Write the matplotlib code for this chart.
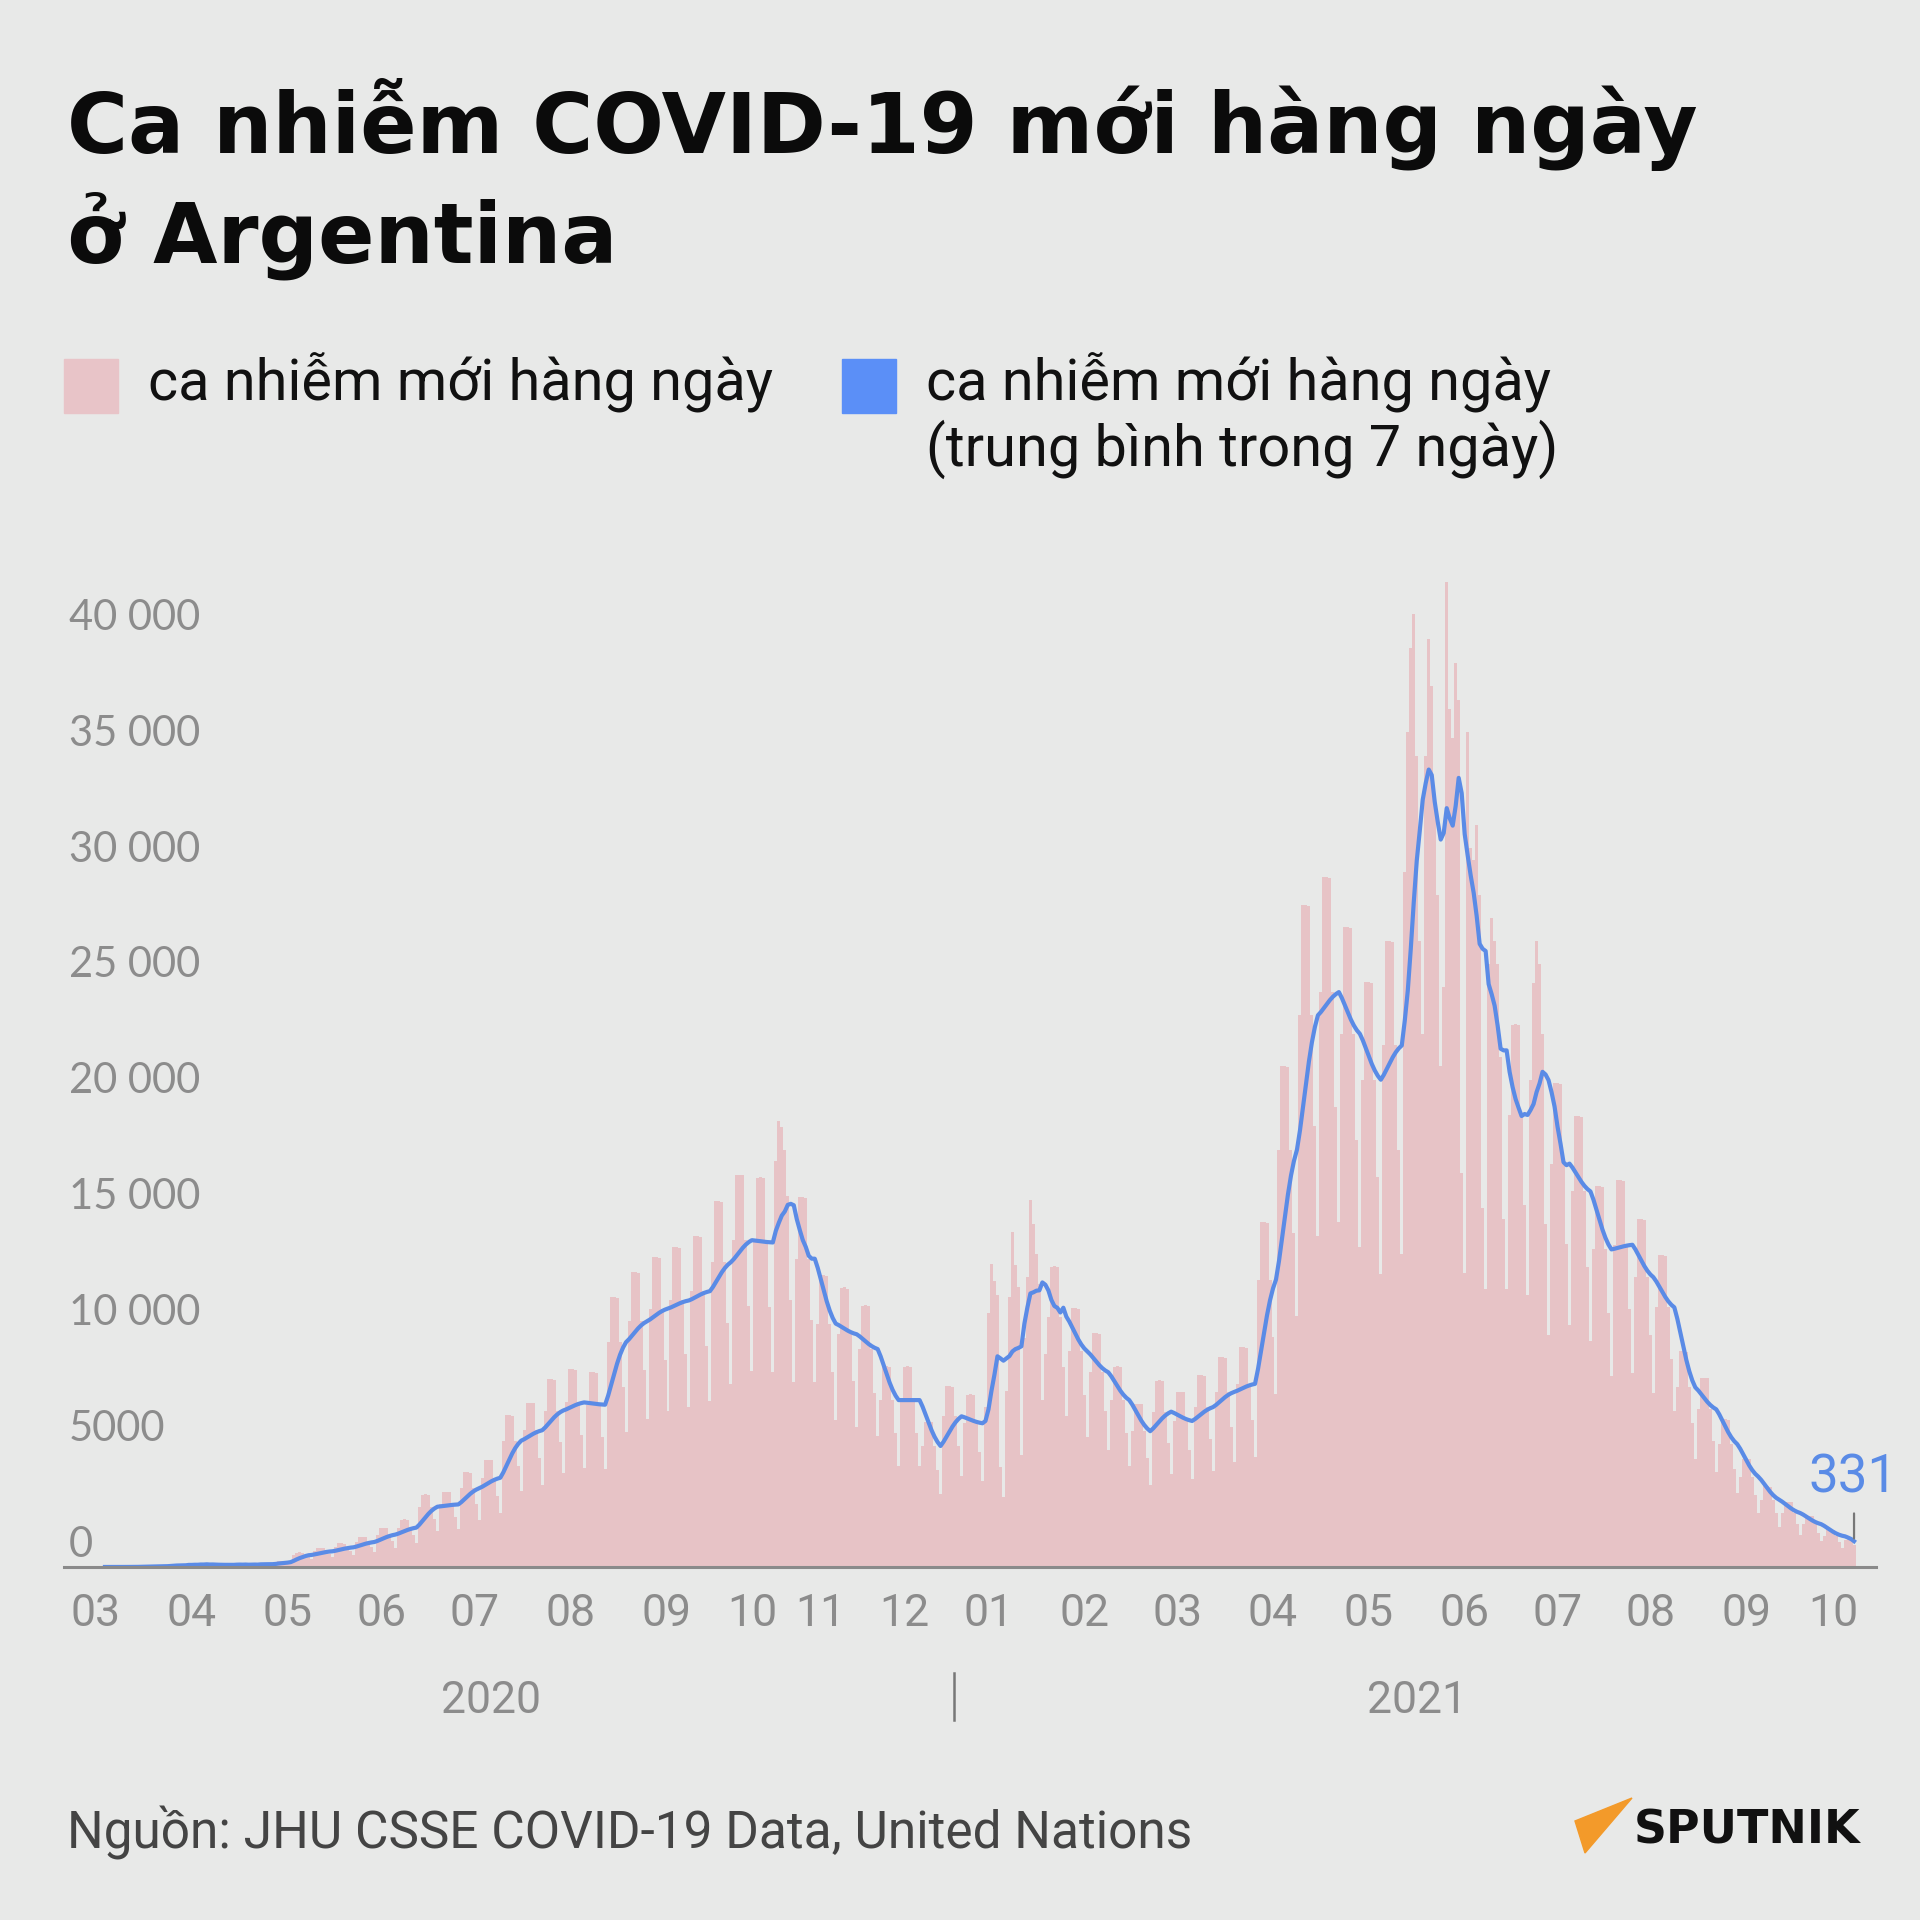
import numpy as np
import pandas as pd
import matplotlib
matplotlib.use("Agg")
import matplotlib.pyplot as plt
from matplotlib import transforms
from matplotlib.patches import Polygon, Rectangle

BG = "#e8e9e8"
PINK = "#e7c3c6"
BLUE = "#5a8be6"
GRAY = "#8c8c8c"

# daily new cases, one row per week (Tue..Mon), starting 2020-03-03
start_date = "2020-03-03"
weekly_rows = [
    [1, 0, 0, 1, 1, 4, 5],
    [5, 2, 12, 3, 11, 22, 9],
    [9, 18, 31, 30, 30, 67, 41],
    [36, 86, 87, 101, 55, 75, 79],
    [146, 88, 132, 103, 124, 75, 141],
    [87, 100, 80, 79, 98, 69, 139],
    [99, 83, 138, 102, 77, 102, 89],
    [132, 97, 119, 181, 112, 105, 97],
    [142, 173, 243, 265, 211, 195, 238],
    [520, 620, 630, 600, 520, 420, 330],
    [680, 810, 820, 800, 690, 540, 410],
    [850, 1020, 1020, 1010, 860, 680, 510],
    [1080, 1300, 1300, 1290, 1080, 860, 650],
    [1400, 1680, 1690, 1670, 1400, 1120, 840],
    [1700, 2040, 2050, 2030, 1700, 1360, 1020],
    [2600, 3120, 3130, 3110, 2600, 2080, 1560],
    [2700, 3240, 3250, 3230, 2700, 2160, 1620],
    [3400, 4080, 4090, 4070, 3400, 2720, 2040],
    [3850, 4620, 4630, 4600, 3850, 3080, 2320],
    [5450, 6540, 6550, 6520, 5450, 4360, 3280],
    [5900, 7080, 7090, 7060, 5900, 4720, 3550],
    [6750, 8100, 8110, 8080, 6750, 5400, 4060],
    [7100, 8520, 8530, 8500, 7100, 5680, 4270],
    [7000, 8400, 8410, 8380, 7000, 5600, 4210],
    [9700, 11640, 11650, 11610, 9700, 7760, 5840],
    [10600, 12720, 12730, 12690, 10600, 8480, 6380],
    [11150, 13380, 13390, 13350, 11150, 8920, 6710],
    [11500, 13800, 13810, 13770, 11500, 9200, 6920],
    [11900, 14280, 14290, 14250, 11900, 9520, 7160],
    [13150, 15780, 15790, 15750, 13150, 10520, 7910],
    [14100, 16920, 16930, 16890, 14100, 11280, 8470],
    [14000, 16800, 16810, 16770, 14000, 11200, 8420],
    [17500, 19240, 19000, 18000, 16000, 11500, 8000],
    [13300, 15960, 15970, 15930, 13300, 10640, 8000],
    [10500, 12600, 12610, 12570, 10500, 8400, 6320],
    [10040, 12050, 12060, 12010, 10040, 8030, 6050],
    [9400, 11280, 11290, 11250, 9400, 7520, 5660],
    [7200, 8640, 8650, 8610, 7200, 5760, 4340],
    [7200, 8640, 8650, 8610, 7200, 5760, 4340],
    [5220, 6260, 6270, 6250, 5220, 4180, 3140],
    [6500, 7800, 7810, 7780, 6500, 5200, 3910],
    [6200, 7440, 7450, 7420, 6200, 4960, 3730],
    [6900, 10940, 13050, 12320, 11730, 4330, 3030],
    [7600, 11640, 14450, 13020, 12080, 4820, 9890],
    [12500, 15840, 14800, 13500, 12200, 7200, 9190],
    [10800, 12960, 12970, 12930, 10800, 8640, 6500],
    [9300, 11160, 11170, 11130, 9300, 7440, 5600],
    [8400, 10080, 10090, 10050, 8400, 6720, 5060],
    [7200, 8640, 8650, 8610, 7200, 5760, 4340],
    [5860, 7030, 7040, 7010, 5860, 4690, 3530],
    [6700, 8040, 8050, 8020, 6700, 5360, 4030],
    [6300, 7560, 7570, 7540, 6300, 5040, 3790],
    [6900, 8280, 8290, 8250, 6900, 5520, 4160],
    [7550, 9060, 9070, 9030, 7550, 6040, 4550],
    [7900, 9480, 9490, 9450, 7900, 6320, 4760],
    [12400, 14880, 14890, 14850, 12400, 9920, 7460],
    [18000, 21600, 21610, 21570, 18000, 14400, 10820],
    [23800, 28560, 28570, 28530, 23800, 19040, 14300],
    [24800, 29760, 29770, 29730, 24800, 19840, 14900],
    [23000, 27600, 27610, 27570, 23000, 18400, 13820],
    [21020, 25220, 25230, 25190, 21020, 16820, 12640],
    [22500, 27000, 27010, 26970, 22500, 18000, 13520],
    [30000, 36000, 39650, 41100, 35000, 27000, 23000],
    [35000, 40050, 38000, 33000, 29000, 21610, 25000],
    [42480, 37000, 35770, 39000, 37420, 17000, 12670],
    [36000, 31000, 30500, 32000, 29000, 15500, 12000],
    [26000, 28000, 27000, 26000, 22000, 15000, 12000],
    [19500, 23400, 23410, 23370, 19500, 15600, 11720],
    [21000, 25200, 27000, 26000, 23000, 14800, 10000],
    [17400, 20880, 20890, 20850, 17400, 13920, 10460],
    [16200, 19440, 19450, 19410, 16200, 12960, 9740],
    [13700, 16440, 16450, 16410, 13700, 10960, 8240],
    [13900, 16680, 16690, 16650, 13900, 11120, 8360],
    [12500, 15000, 15010, 14970, 12500, 10000, 7520],
    [11200, 13440, 13450, 13410, 11200, 8960, 6740],
    [7750, 9300, 9310, 9280, 7750, 6200, 4660],
    [6800, 8160, 8170, 8140, 6800, 5440, 4090],
    [5300, 6360, 6370, 6340, 5300, 4240, 3190],
    [3900, 4680, 4690, 4670, 3900, 3120, 2340],
    [2900, 3480, 3490, 3470, 2900, 2320, 1740],
    [2330, 2800, 2800, 2790, 2330, 1860, 1400],
    [1850, 2220, 2220, 2210, 1850, 1480, 1110],
    [1350, 1620, 1620, 1610, 1350, 1080, 820],
    [1150, 1250, 1200, 940],
]
last_label = "331"

month_ticks = ["2020-03-01", "2020-04-01", "2020-05-01", "2020-06-01", "2020-07-01",
               "2020-08-01", "2020-09-01", "2020-10-01", "2020-11-01", "2020-12-01",
               "2021-01-01", "2021-02-01", "2021-03-01", "2021-04-01", "2021-05-01",
               "2021-06-01", "2021-07-01", "2021-08-01", "2021-09-01", "2021-10-01"]
month_labels = ["03", "04", "05", "06", "07", "08", "09", "10", "11", "12",
                "01", "02", "03", "04", "05", "06", "07", "08", "09", "10"]
# small label nudges (days), the source spreads labels around the year break
label_shift = [-1, 0, 2, 2.5, 3.5, 4.5, 5.5, 4, -4, -6, -9, -8, -5, -4, -2, -1, 0, 0, 1, 0]

y_ticks = [0, 5000, 10000, 15000, 20000, 25000, 30000, 35000, 40000]
y_labels = ["0", "5000", "10 000", "15 000", "20 000", "25 000", "30 000", "35 000", "40 000"]

daily = [v for row in weekly_rows for v in row]
dates = pd.date_range(start_date, periods=len(daily), freq="D")
avg7 = pd.Series(daily, index=dates).rolling(7, min_periods=1).mean()

W, H = 1920, 1920
fig = plt.figure(figsize=(19.2, 19.2), dpi=100, facecolor=BG)

# plot area: x axis line 64..1876 px, baseline at y=1567 px
ax = fig.add_axes([64 / W, 1 - 1567 / H, (1876 - 64) / W, (1567 - 560) / H])
ax.set_facecolor(BG)
ax.bar(dates, daily, width=1.0, color=PINK, linewidth=0, align="center")
ax.plot(avg7.index, avg7.values, color=BLUE, lw=3.0, solid_joinstyle="round")

ax.set_xlim(pd.Timestamp("2020-02-18 08:00"), pd.Timestamp("2021-10-15 08:00"))
ax.set_ylim(0, 43440)
for s in ["top", "right", "left"]:
    ax.spines[s].set_visible(False)
ax.spines["bottom"].set_color("#8a8a8a")
ax.spines["bottom"].set_linewidth(2.2)
ax.set_yticks([])

tick_pos = [pd.Timestamp(d) + pd.Timedelta(days=s) for d, s in zip(month_ticks, label_shift)]
ax.set_xticks(tick_pos)
ax.set_xticklabels(month_labels, family="Roboto", fontsize=32, color=GRAY)
ax.tick_params(axis="x", length=0, pad=19)

ylab_tr = transforms.offset_copy(
    transforms.blended_transform_factory(ax.transAxes, ax.transData),
    fig=fig, x=5, y=10, units="dots")
for v, lab in zip(y_ticks, y_labels):
    ax.text(0, v, lab, transform=ylab_tr, ha="left", va="baseline",
            family="Lato", fontsize=30, color=GRAY)

# end label
ax.annotate(last_label, xy=(avg7.index[-1], avg7.values[-1]),
            xytext=(-1, 27), textcoords="offset points", ha="center", va="bottom",
            family="Roboto", fontsize=38, color=BLUE)
ax.annotate("", xy=(avg7.index[-1], avg7.values[-1]), xytext=(0, 22),
            textcoords="offset points",
            arrowprops=dict(arrowstyle="-", color="#777777", lw=1.6))

# years
fig.text(491 / W, 1 - 1701 / H, "2020", ha="center", va="center",
         family="Roboto", fontsize=32, color=GRAY)
fig.text(1417 / W, 1 - 1701 / H, "2021", ha="center", va="center",
         family="Roboto", fontsize=32, color=GRAY)
fig.add_artist(plt.Line2D([954 / W, 954 / W], [1 - 1673 / H, 1 - 1720 / H],
                          color="#777777", lw=1.8))

# title, fitted to the width of the original heading
t1 = fig.text(67 / W, 1 - 153 / H, "Ca nhiễm COVID-19 mới hàng ngày", ha="left",
              va="baseline", family="DejaVu Sans", fontweight="bold", fontsize=56,
              color="#0b0b0b")
t2 = fig.text(67 / W, 1 - 263 / H, "ở Argentina", ha="left", va="baseline",
              family="DejaVu Sans", fontweight="bold", fontsize=56, color="#0b0b0b")
fig.canvas.draw()
w1 = t1.get_window_extent().width
fs = 56 * 1629 / w1
t1.set_fontsize(fs)
t2.set_fontsize(fs)

# legend
fig.add_artist(Rectangle((64 / W, 1 - 413 / H), 54 / W, 54 / H, color="#e8c4c8",
                         transform=fig.transFigure))
fig.text(148 / W, 1 - 400 / H, "ca nhiễm mới hàng ngày", ha="left", va="baseline",
         family="Roboto", fontsize=41.5, color="#111111")
fig.add_artist(Rectangle((842 / W, 1 - 413 / H), 54 / W, 54 / H, color="#5b8ff7",
                         transform=fig.transFigure))
fig.text(926 / W, 1 - 400 / H, "ca nhiễm mới hàng ngày", ha="left", va="baseline",
         family="Roboto", fontsize=41.5, color="#111111")
fig.text(926 / W, 1 - 466 / H, "(trung bình trong 7 ngày)", ha="left", va="baseline",
         family="Roboto", fontsize=41.5, color="#111111")

# source
fig.text(67 / W, 1 - 1849 / H, "Nguồn: JHU CSSE COVID-19 Data, United Nations",
         ha="left", va="baseline", family="Roboto", fontsize=37, color="#444444")

# logo
fig.add_artist(Polygon([(1575 / W, 1 - 1821 / H), (1632 / W, 1 - 1798 / H),
                        (1585 / W, 1 - 1853 / H)], closed=True, color="#f39a2a",
                       transform=fig.transFigure))
fig.text(1634 / W, 1 - 1843 / H, "SPUTNIK", ha="left", va="baseline",
         family="DejaVu Sans", fontweight="bold", fontsize=33, color="#111111")

fig.savefig("out.png", dpi=100, facecolor=BG)
